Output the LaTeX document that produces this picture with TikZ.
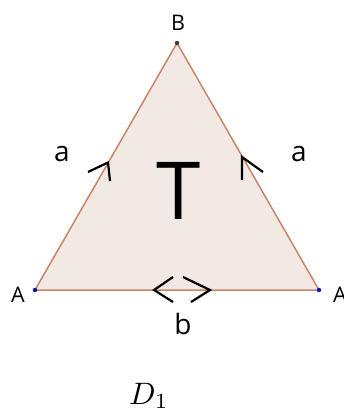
\documentclass[tikz,border=0pt]{standalone}
\usepackage{fontspec}
\setmainfont{Open Sans}
\definecolor{edgec}{RGB}{198,134,104}
\definecolor{fillc}{RGB}{242,233,228}
\definecolor{ptblue}{RGB}{20,20,170}
\definecolor{ptgray}{RGB}{60,60,60}
\begin{document}
\begin{tikzpicture}[x=1pt,y=-1pt,
  vtx/.style={circle,inner sep=0pt,minimum size=4.5pt},
  lbl/.style={inner sep=0pt,font=\fontsize{21.5}{21.5}\selectfont},
  side/.style={inner sep=0pt,font=\fontsize{28}{28}\selectfont},
  tick/.style={line width=2.2pt,line cap=butt,line join=miter}]
\useasboundingbox (0,0) rectangle (344,410);
\coordinate (B) at (177,43);
\coordinate (AL) at (35,290);
\coordinate (AR) at (319,290);
\filldraw[fill=fillc,draw=edgec,line width=1.5pt] (AL) -- (B) -- (AR) -- cycle;
\node[vtx,fill=ptgray] (Bd) at (B) {};
\node[vtx,fill=ptblue] (ALd) at (AL) {};
\node[vtx,fill=ptblue] (ARd) at (AR) {};
\node[lbl] (Bl) at (178,23) {B};
\node[lbl] (ALl) at (18,295) {A};
\node[lbl,anchor=west] (ARl) at (333,295) {A};
\node[side] (aL) at (62,154) {a};
\node[side] (aR) at (299,154) {a};
\node[side] (bl) at (183,324) {b};
\node[inner sep=0pt,font=\fontsize{80}{80}\selectfont] (T) at (179,191) {T};
\node[inner sep=0pt,anchor=base west] (D) at (129,404) {\scalebox{3.1}{$D_1$}};
% direction marks
\draw[tick] (88,172) -- (108,162.5) -- (110,181);
\draw[tick] (242,180) -- (242,157) -- (263,172);
\draw[tick] (173,277) -- (154,290) -- (173,302);
\draw[tick] (183,277) -- (210,290) -- (191,302);
\end{tikzpicture}
\end{document}
